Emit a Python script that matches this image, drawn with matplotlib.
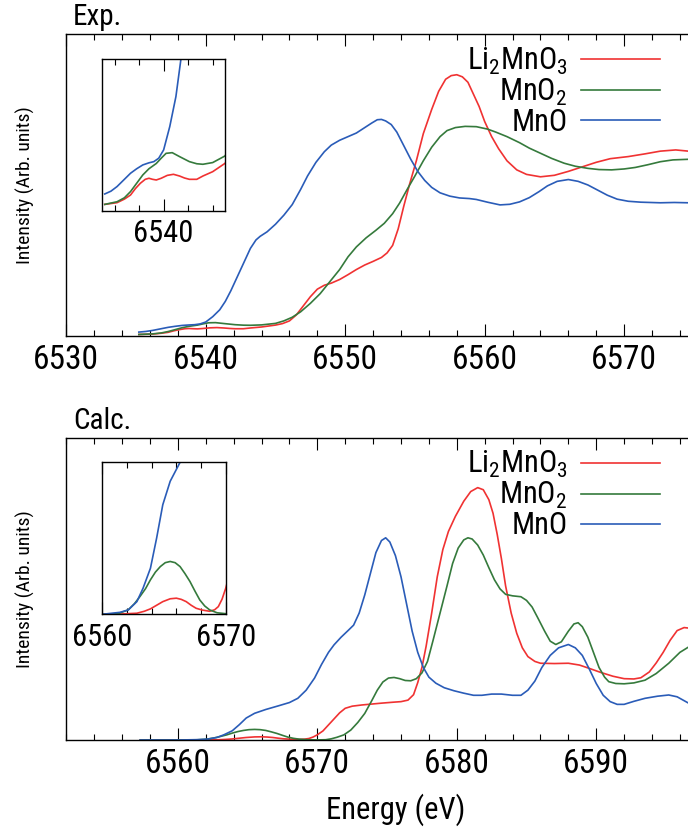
import matplotlib
matplotlib.use('Agg')
import matplotlib.pyplot as plt
from matplotlib import font_manager
from matplotlib.ticker import MultipleLocator

exp_li2mno3_e = [6535.2, 6536.2, 6536.8, 6537.3, 6537.7, 6538.1, 6538.5, 6538.8, 6539.1,
                 6539.4, 6539.8, 6540.3, 6540.8, 6541.3, 6541.7, 6542.1, 6542.7, 6543.2,
                 6544.0, 6545.0, 6545.5, 6546.0, 6546.5, 6547.0, 6547.5, 6548.0, 6548.5,
                 6549.0, 6549.6, 6550.2, 6550.8, 6551.4, 6552.0, 6552.6, 6553.0, 6553.4,
                 6553.8, 6554.2, 6554.6, 6555.1, 6555.6, 6556.2, 6556.7, 6557.2, 6557.6,
                 6558.0, 6558.4, 6558.8, 6559.2, 6559.6, 6560.0, 6560.5, 6561.0, 6561.6,
                 6562.3, 6563.0, 6564.0, 6565.0, 6566.0, 6567.0, 6568.0, 6569.0, 6570.3,
                 6571.5, 6572.6, 6573.7, 6574.6]
exp_li2mno3 = [.005, .0063, .009, .0121, .017, .021, .024, .0248, .024,
               .0235, .0248, .027, .0278, .0265, .025, .024, .024, .0265,
               .0298, .0361, .041, .05, .07, .10, .13, .155, .168,
               .175, .187, .203, .22, .235, .247, .26, .275, .30,
               .355, .43, .50, .58, .67, .75, .81, .85, .862,
               .865, .858, .84, .80, .76, .71, .66, .62, .58,
               .55, .535, .527, .532, .545, .56, .575, .587, .594,
               .603, .612, .616, .612]

exp_mno2_e = [6535.2, 6536.2, 6536.8, 6537.3, 6537.8, 6538.3, 6538.8, 6539.4, 6539.8,
              6540.2, 6540.7, 6541.3, 6542.1, 6542.7, 6543.2, 6544.0, 6545.0, 6545.6,
              6546.2, 6546.8, 6547.5, 6548.2, 6548.9, 6549.6, 6550.2, 6550.8, 6551.5,
              6552.2, 6552.8, 6553.4, 6553.9, 6554.5, 6555.0, 6555.6, 6556.2, 6556.8,
              6557.3, 6557.9, 6558.6, 6559.4, 6560.2, 6560.8, 6561.6, 6562.5, 6563.2,
              6564.0, 6564.8, 6565.7, 6566.5, 6567.4, 6568.2, 6569.1, 6570.0, 6570.8,
              6571.7, 6572.6, 6573.5, 6574.6]
exp_mno2 = [.005, .007, .010, .0147, .021, .0273, .032, .036, .040,
            .0437, .0442, .0412, .0374, .0358, .0354, .0367, .0417, .05,
            .062, .08, .108, .14, .18, .22, .262, .295, .325,
            .35, .373, .405, .44, .49, .53, .58, .625, .66,
            .68, .69, .694, .693, .685, .675, .66, .64, .622,
            .605, .588, .572, .562, .555, .551, .55, .553, .558,
            .567, .577, .583, .585]

exp_mno_e = [6535.2, 6535.7, 6536.2, 6536.8, 6537.3, 6537.8, 6538.3, 6538.8, 6539.2,
             6539.6, 6540.0, 6540.5, 6541.0, 6541.4, 6541.8, 6542.2, 6542.7, 6543.2,
             6543.6, 6543.9, 6544.4, 6545.0, 6545.6, 6546.2, 6546.8, 6547.3, 6547.9,
             6548.5, 6549.0, 6549.6, 6550.2, 6550.8, 6551.4, 6551.9, 6552.3, 6552.6,
             6552.9, 6553.3, 6553.7, 6554.2, 6554.7, 6555.2, 6555.7, 6556.2, 6556.8,
             6557.5, 6558.2, 6558.9, 6559.4, 6560.2, 6561.1, 6561.8, 6562.5, 6563.2,
             6563.9, 6564.5, 6565.2, 6566.0, 6566.7, 6567.4, 6568.1, 6568.8, 6569.5,
             6570.3, 6571.2, 6572.6, 6573.6, 6574.6]
exp_mno = [.0129, .015, .0185, .024, .0286, .032, .0349, .0365, .0374,
           .040, .0463, .064, .0867, .1145, .15, .19, .24, .29,
           .318, .33, .345, .37, .40, .435, .485, .53, .575,
           .61, .632, .648, .66, .672, .69, .705, .716, .717,
           .712, .70, .675, .63, .585, .545, .515, .492, .474,
           .463, .457, .455, .452, .443, .434, .436, .444, .458,
           .478, .497, .512, .518, .512, .50, .483, .466, .453,
           .446, .443, .441, .442, .441]

# Calculated spectra
calc_li2mno3_e = [6557.3, 6560.0, 6561.5, 6562.8, 6563.4, 6563.9, 6564.4, 6564.9, 6565.5,
                  6566.0, 6566.4, 6566.8, 6567.2, 6567.6, 6568.1, 6568.7, 6569.1, 6569.4,
                  6569.7, 6570.0, 6570.4, 6570.8, 6571.2, 6571.6, 6572.0, 6572.5, 6573.2,
                  6573.9, 6574.6, 6575.4, 6576.0, 6576.5, 6576.9, 6577.2, 6577.5, 6577.8,
                  6578.2, 6578.6, 6579.0, 6579.4, 6579.9, 6580.5, 6581.0, 6581.5, 6581.9,
                  6582.3, 6582.6, 6582.9, 6583.2, 6583.5, 6583.9, 6584.3, 6584.7, 6585.1,
                  6585.6, 6586.0, 6587.0, 6588.0, 6588.8, 6589.5, 6590.3, 6591.2, 6592.0,
                  6592.7, 6593.2, 6593.8, 6594.3, 6594.8, 6595.3, 6595.8, 6596.3, 6596.7]
calc_li2mno3 = [0, 0, .0002, .0007, .002, .0036, .006, .0084, .0103,
                .0107, .0099, .0084, .006, .004, .0028, .002, .003, .0051,
                .01, .0173, .03, .05, .07, .09, .105, .112, .116,
                .119, .122, .125, .127, .132, .15, .19, .24, .31,
                .42, .54, .63, .69, .74, .79, .822, .835, .828,
                .795, .75, .68, .60, .51, .42, .353, .305, .276,
                .26, .254, .253, .254, .248, .237, .224, .211, .203,
                .202, .206, .225, .255, .29, .33, .362, .372, .37]

calc_mno2_e = [6557.3, 6560.0, 6561.3, 6562.1, 6562.6, 6563.05, 6563.5, 6563.9, 6564.3,
               6564.7, 6565.1, 6565.5, 6565.9, 6566.3, 6566.7, 6567.1, 6567.5, 6567.9,
               6568.3, 6568.7, 6569.3, 6570.0, 6570.6, 6571.0, 6571.4, 6571.9, 6572.4,
               6572.9, 6573.4, 6573.9, 6574.3, 6574.7, 6575.1, 6575.5, 6575.9, 6576.3,
               6576.7, 6577.1, 6577.5, 6577.9, 6578.3, 6578.8, 6579.3, 6579.7, 6580.1,
               6580.5, 6580.8, 6581.1, 6581.5, 6581.9, 6582.3, 6582.7, 6583.1, 6583.5,
               6584.0, 6584.6, 6585.0, 6585.4, 6585.8, 6586.3, 6586.7, 6587.1, 6587.5,
               6588.0, 6588.4, 6588.7, 6589.0, 6589.4, 6589.8, 6590.2, 6590.6, 6590.9,
               6591.4, 6592.0, 6592.7, 6593.5, 6594.3, 6595.2, 6596.0, 6596.7]
calc_mno2 = [0, 0, .0005, .0029, .007, .0118, .017, .0229, .028,
             .0317, .0343, .0351, .0343, .0317, .027, .0218, .0155, .0095,
             .0055, .0029, .001, .0004, .001, .004, .009, .017, .033,
             .058, .088, .13, .165, .192, .205, .207, .203, .197,
             .196, .203, .222, .26, .33, .42, .51, .584, .635,
             .662, .669, .665, .645, .612, .57, .53, .50, .482,
             .477, .474, .462, .44, .405, .36, .327, .316, .325,
             .36, .384, .388, .375, .34, .29, .24, .208, .193,
             .187, .186, .189, .198, .22, .254, .29, .31]

calc_mno_e = [6557.3, 6560.0, 6561.43, 6562.1, 6562.8, 6563.3, 6563.9, 6564.4, 6564.9,
              6565.5, 6566.3, 6567.2, 6568.0, 6568.6, 6569.2, 6569.8, 6570.3, 6570.8,
              6571.2, 6571.7, 6572.2, 6572.6, 6573.0, 6573.4, 6573.8, 6574.2, 6574.6,
              6574.9, 6575.2, 6575.6, 6576.0, 6576.4, 6576.8, 6577.2, 6577.6, 6578.0,
              6578.5, 6579.1, 6579.8, 6580.5, 6581.2, 6581.8, 6582.5, 6583.2, 6584.0,
              6584.6, 6585.1, 6585.6, 6586.1, 6586.7, 6587.3, 6588.0, 6588.5, 6589.0,
              6589.5, 6590.0, 6590.5, 6591.0, 6591.5, 6592.0, 6592.7, 6593.5, 6594.4,
              6595.2, 6595.8, 6596.7]
calc_mno = [0, 0, .0013, .0029, .0084, .0173, .0306, .0506, .0728,
            .0884, .101, .113, .124, .138, .165, .205, .25, .29,
            .315, .34, .362, .38, .42, .48, .55, .62, .66,
            .669, .655, .61, .54, .45, .36, .29, .24, .208,
            .188, .173, .163, .155, .148, .148, .152, .152, .148,
            .148, .165, .195, .24, .28, .305, .316, .305, .28,
            .235, .187, .148, .127, .118, .118, .128, .138, .145,
            .149, .143, .12]

labels = [r'$\mathregular{Li_2MnO_3}$', r'$\mathregular{MnO_2}$', 'MnO']
colors = ['#f03232', '#357a3c', '#2a5cb8']

# pick a narrow sans if there is one
installed = {f.name for f in font_manager.fontManager.ttflist}
font = 'Liberation Sans'
for name in ['Liberation Sans Narrow', 'Roboto Condensed', 'Open Sans Condensed']:
    if name in installed:
        font = name
        break
plt.rcParams['font.family'] = [font, 'DejaVu Sans']
plt.rcParams['mathtext.fontset'] = 'custom'
plt.rcParams['mathtext.rm'] = font
plt.rcParams['axes.linewidth'] = 1.0


def style_axis(ax, xlim, ylim, size):
    ax.set_xlim(*xlim)
    ax.set_ylim(*ylim)
    ax.set_yticks([])
    ax.xaxis.set_major_locator(MultipleLocator(10))
    ax.xaxis.set_minor_locator(MultipleLocator(2))
    ax.tick_params(axis='x', which='both', direction='in', top=True, width=0.8,
                   labelsize=size, pad=6)
    ax.tick_params(axis='x', which='major', length=8.5)
    ax.tick_params(axis='x', which='minor', length=4.3)


def panel(rect, inset_rect, series, xlim, inset_xlim, inset_ylim, title):
    ax = fig.add_axes(rect)
    for (e, y), c, lab in zip(series, colors, labels):
        ax.plot(e, y, color=c, lw=1.2, label=lab)
    style_axis(ax, xlim, (0, 1), 24)
    # the frame runs past the right edge of the figure
    ax.spines['right'].set_visible(False)
    ax.set_ylabel('Intensity (Arb. units)', fontsize=14)
    ax.yaxis.set_label_coords(-0.0497, 0.5)
    ax.text(0.011, 1.03, title, transform=ax.transAxes, fontsize=21, va='baseline')
    ax.legend(loc='upper right', bbox_to_anchor=(0.955, 0.962), frameon=False,
              markerfirst=False, fontsize=22, handlelength=2.58, handletextpad=0.46,
              labelspacing=0.0, borderpad=0, borderaxespad=0)

    axin = fig.add_axes(inset_rect)
    for (e, y), c in zip(series, colors):
        axin.plot(e, y, color=c, lw=1.2)
    style_axis(axin, inset_xlim, inset_ylim, 22)
    return ax


fig = plt.figure(figsize=(6.88, 8.3), dpi=100)

panel([0.0964, 0.5952, 0.904, 0.3639], [0.1487, 0.7458, 0.1783, 0.1828],
      [(exp_li2mno3_e, exp_li2mno3), (exp_mno2_e, exp_mno2), (exp_mno_e, exp_mno)],
      (6530, 6574.6), (6535, 6545), (0, 0.115), 'Exp.')

ax2 = panel([0.0964, 0.1084, 0.904, 0.3642], [0.1487, 0.2599, 0.1794, 0.1831],
            [(calc_li2mno3_e, calc_li2mno3), (calc_mno2_e, calc_mno2), (calc_mno_e, calc_mno)],
            (6552, 6596.6), (6560, 6570), (0, 0.101), 'Calc.')
ax2.set_xlabel('Energy (eV)', fontsize=22)
ax2.xaxis.set_label_coords(0.530, -0.175)

fig.savefig('out.png', dpi=100)
